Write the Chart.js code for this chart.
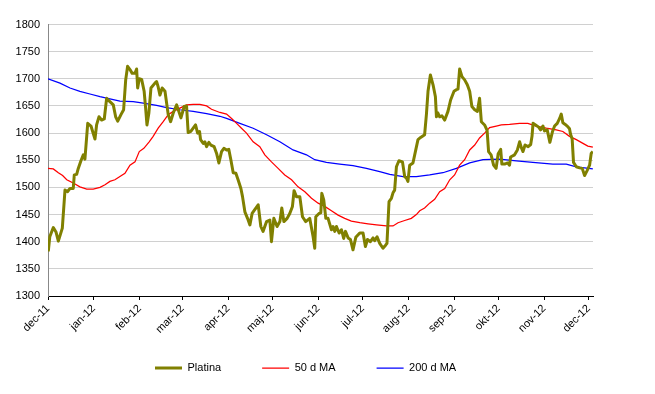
<!DOCTYPE html>
<html>
<head>
<meta charset="utf-8">
<script src="https://cdn.jsdelivr.net/npm/chart.js@4/dist/chart.umd.min.js"></script>
<style>
  html, body { margin: 0; padding: 0; background: #fff; }
  canvas { display: block; }
</style>
</head>
<body>
<canvas id="c" width="655" height="394"></canvas>
<script>
// ---- Data (x = days since 1 Dec 2011) ----
const monthLabels = ['dec-11','jan-12','feb-12','mar-12','apr-12','maj-12','jun-12','jul-12','aug-12','sep-12','okt-12','nov-12','dec-12'];
const monthDays = [0,31,62,91,122,152,183,213,244,275,305,336,366];
const yTicks = [1300,1350,1400,1450,1500,1550,1600,1650,1700,1750,1800];

const platDays = [0.2,1.2,3.6,5.4,7.0,9.7,11.5,13.3,14.9,17.1,17.8,19.4,20.5,22.3,23.9,25.0,26.9,29.1,31.8,32.9,34.5,36.3,38.1,39.7,41.9,44.2,45.8,47.2,49.4,51.2,52.6,53.9,55.5,57.0,58.9,60.0,60.7,61.8,63.4,65.1,66.1,67.0,68.3,69.7,72.4,73.5,74.6,75.8,77.3,79.2,81.4,83.0,84.8,87.1,90.0,92.2,93.8,94.9,96.7,98.3,99.9,101.3,102.6,103.3,105.1,106.2,107.4,108.9,110.3,112.5,114.1,115.7,117.5,119.1,120.9,122.4,123.8,125.4,127.2,128.7,130.6,131.7,133.3,135.1,136.7,138.2,140.0,142.3,144.1,145.6,148.0,150.2,151.3,152.9,155.1,157.0,158.3,159.7,161.9,163.7,165.5,166.6,168.2,170.5,172.3,174.5,177.2,179.5,180.6,181.3,183.5,184.7,185.4,186.7,188.1,189.6,191.9,193.0,194.2,195.3,197.1,198.7,200.2,201.4,203.2,204.8,206.5,208.4,211.1,213.3,214.9,216.3,218.3,220.1,221.2,222.8,224.6,226.8,228.7,229.5,230.9,232.5,233.6,234.7,235.9,237.6,240.0,241.5,242.7,243.7,244.9,247.1,249.0,250.5,252.3,255.0,256.2,257.3,258.9,260.7,262.3,263.0,264.0,265.2,266.7,268.6,270.8,272.6,274.9,276.5,277.6,278.7,280.3,282.1,283.9,285.5,287.0,288.9,290.7,292.2,293.4,295.6,297.3,298.3,300.0,301.7,303.4,304.8,306.5,307.3,309.2,311.2,312.5,313.2,315.9,317.8,319.3,320.5,321.6,323.0,325.1,326.8,327.7,328.4,330.6,332.2,333.5,335.1,336.2,338.0,339.8,341.6,343.0,344.8,346.4,347.5,348.6,350.2,351.9,353.1,353.8,354.9,355.8,357.7,359.9,361.7,363.3,365.0,366.7,367.8,368.9];
const platVals = [1382,1409,1426,1418,1401,1425,1495,1492,1498,1498,1523,1524,1535,1549,1560,1552,1618,1613,1589,1615,1630,1624,1626,1664,1658,1652,1630,1622,1634,1643,1698,1723,1717,1710,1710,1718,1683,1700,1699,1677,1646,1615,1637,1683,1692,1695,1685,1670,1683,1677,1634,1621,1637,1652,1628,1649,1650,1601,1603,1609,1615,1600,1603,1588,1581,1584,1575,1583,1578,1575,1563,1545,1566,1572,1569,1570,1551,1527,1526,1514,1498,1483,1455,1443,1431,1452,1459,1468,1428,1419,1437,1440,1400,1443,1428,1437,1462,1437,1443,1452,1465,1494,1483,1483,1446,1437,1443,1409,1388,1446,1452,1453,1489,1477,1443,1443,1422,1428,1419,1428,1416,1422,1406,1419,1407,1404,1385,1408,1416,1416,1391,1404,1400,1407,1402,1409,1397,1388,1394,1397,1474,1480,1490,1495,1538,1549,1547,1520,1517,1511,1541,1545,1569,1588,1592,1597,1634,1677,1707,1689,1667,1630,1637,1630,1632,1624,1640,1661,1677,1680,1681,1718,1704,1698,1689,1677,1649,1643,1640,1664,1621,1615,1605,1566,1560,1541,1535,1562,1570,1543,1543,1545,1541,1556,1560,1569,1584,1573,1566,1578,1575,1579,1594,1618,1614,1611,1606,1613,1604,1606,1583,1603,1613,1618,1627,1635,1619,1616,1612,1608,1598,1589,1546,1538,1536,1535,1522,1531,1541,1563,1566];

const ma50Days = [0,3.6,7.0,9.9,12.7,17.1,21.6,26.2,30.6,35.2,38.6,41.9,45.3,48.7,52.1,55.5,58.9,61.8,64.9,68.5,71.2,74.6,78.0,81.4,84.8,89.3,93.8,98.3,102.8,107.4,110.7,116.4,120.9,124.3,127.7,131.0,134.4,138.9,143.4,146.8,151.3,155.8,160.3,164.9,169.3,173.9,178.4,182.9,187.4,191.9,196.4,200.9,205.4,211.1,216.7,222.4,229.1,233.6,237.0,241.5,246.0,249.4,251.7,255.0,258.4,261.8,265.2,268.6,272.0,275.3,278.7,282.1,285.5,288.9,292.2,295.6,299.0,303.5,306.9,312.5,319.3,324.9,330.6,337.4,344.1,348.6,353.1,357.7,362.2,365.5,368.9];
const ma50Vals = [1535,1534,1527,1522,1514,1508,1501,1497,1497,1500,1505,1511,1514,1520,1526,1541,1547,1566,1572,1584,1594,1609,1621,1634,1640,1646,1652,1653,1653,1650,1644,1638,1635,1627,1618,1609,1600,1584,1575,1560,1547,1535,1523,1514,1501,1492,1480,1471,1465,1457,1449,1443,1438,1435,1433,1431,1429,1429,1435,1439,1443,1450,1457,1462,1471,1478,1492,1498,1514,1523,1541,1551,1569,1578,1591,1600,1610,1613,1615,1616,1618,1618,1613,1609,1606,1603,1594,1588,1581,1576,1574];

const ma200Days = [0,8.1,14.9,21.6,28.4,35.2,41.9,48.7,57.7,64.5,73.5,80.3,89.3,98.3,107.4,116.4,120.9,129.9,138.9,148.0,157.0,165.9,175.0,180.6,188.5,197.5,206.5,215.6,224.6,231.4,240.4,249.4,258.4,267.4,276.5,285.5,294.5,305.8,317.1,328.3,341.8,350.9,357.7,368.9];
const ma200Vals = [1700,1692,1683,1677,1672,1667,1663,1659,1658,1655,1651,1647,1643,1640,1636,1631,1627,1618,1609,1597,1584,1569,1560,1551,1546,1543,1540,1535,1529,1524,1520,1520,1523,1527,1535,1545,1551,1552,1549,1546,1543,1543,1538,1534];

const seriesNames = ['Platina', '50 d MA', '200 d MA'];

// ---- Build chart ----
const FONT = '"Liberation Sans", Arial, sans-serif';
const LEGEND_PAD = 41;
const toXY = (xs, ys) => xs.map((x, i) => ({ x: x, y: ys[i] }));

// Places the legend row where the reference has it (first sample line at x=155, row centred at y=368)
const legendPlacer = {
  id: 'legendPlacer',
  afterLayout(chart) {
    const lg = chart.legend;
    if (!lg || !lg.lineWidths) return;
    const startX = (lg.left + LEGEND_PAD + lg.right - lg.lineWidths[0]) / 2;
    const dx = 155 - startX;
    lg.left += dx; lg.right += dx;
    lg.top = 368 - 5.5 - LEGEND_PAD;
    lg.bottom = chart.height;
    lg.height = lg.bottom - lg.top;
  }
};

new Chart(document.getElementById('c'), {
  type: 'line',
  data: {
    datasets: [
      { label: seriesNames[0], data: toXY(platDays, platVals), borderColor: '#808000', backgroundColor: '#808000',
        borderWidth: 3, pointRadius: 0, pointStyle: 'line', tension: 0, borderJoinStyle: 'round' },
      { label: seriesNames[1], data: toXY(ma50Days, ma50Vals), borderColor: '#ff0000', backgroundColor: '#ff0000',
        borderWidth: 1.25, pointRadius: 0, pointStyle: 'line', tension: 0 },
      { label: seriesNames[2], data: toXY(ma200Days, ma200Vals), borderColor: '#0000ff', backgroundColor: '#0000ff',
        borderWidth: 1.25, pointRadius: 0, pointStyle: 'line', tension: 0 }
    ]
  },
  plugins: [legendPlacer],
  options: {
    responsive: false,
    animation: false,
    events: [],
    layout: { padding: { left: 0, right: 62, top: 24.5, bottom: 0 } },
    plugins: {
      tooltip: { enabled: false },
      legend: {
        position: 'bottom',
        align: 'center',
        maxHeight: 40,
        labels: {
          usePointStyle: true,
          pointStyleWidth: 27,
          padding: LEGEND_PAD,
          color: '#000',
          font: { family: FONT, size: 11 }
        }
      }
    },
    scales: {
      x: {
        type: 'linear',
        min: 0,
        max: 369,
        afterBuildTicks: (s) => { s.ticks = monthDays.map(v => ({ value: v })); },
        afterFit: (s) => { s.height = 58; },
        ticks: {
          autoSkip: false,
          minRotation: 45,
          maxRotation: 45,
          padding: 2,
          color: '#000',
          font: { family: FONT, size: 11 },
          callback: (v, i) => monthLabels[i]
        },
        grid: { drawOnChartArea: false, drawTicks: true, tickLength: 4, color: '#000' },
        border: { color: '#000', width: 1 }
      },
      y: {
        min: 1300,
        max: 1800,
        afterBuildTicks: (s) => { s.ticks = yTicks.map(v => ({ value: v })); },
        afterFit: (s) => { s.width = 48; },
        ticks: {
          padding: 8,
          color: '#000',
          font: { family: FONT, size: 11 },
          callback: (v) => String(v)
        },
        grid: { color: '#d0d0d0', drawTicks: false },
        border: { color: '#888', width: 1 }
      }
    }
  }
});
</script>
</body>
</html>
